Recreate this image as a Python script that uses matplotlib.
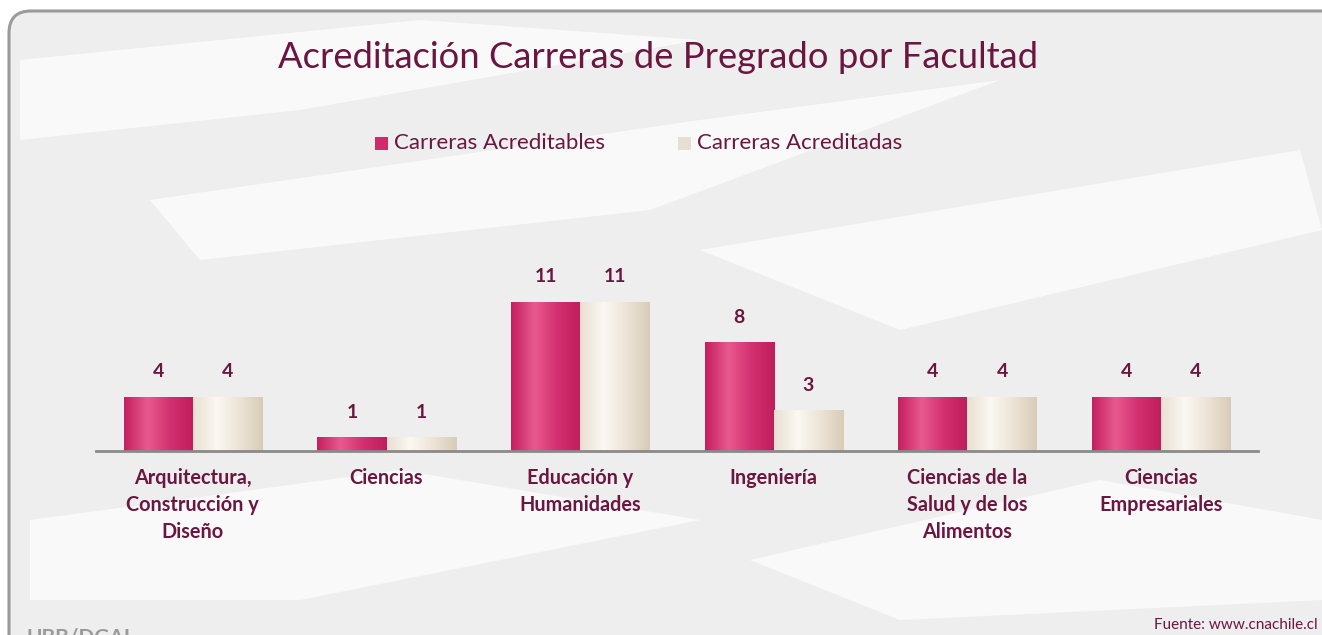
import numpy as np
import matplotlib
matplotlib.use("Agg")
import matplotlib.pyplot as plt
from matplotlib.patches import FancyBboxPatch, Polygon

# data
categories = ["Arquitectura,\nConstrucción y\nDiseño", "Ciencias", "Educación y\nHumanidades",
              "Ingeniería", "Ciencias de la\nSalud y de los\nAlimentos", "Ciencias\nEmpresariales"]
acreditables = [4, 1, 11, 8, 4, 4]
acreditadas = [4, 1, 11, 3, 4, 4]
series_names = ["Carreras Acreditables", "Carreras Acreditadas"]

text_col = "#6b1640"
plt.rcParams["font.family"] = ["Lato", "DejaVu Sans"]

fig = plt.figure(figsize=(13.22, 6.35), dpi=100)
fig.patch.set_facecolor("white")

# background: light grey panel with a few white swooshes (watermark feel)
bg = fig.add_axes([0, 0, 1, 1])
bg.set_xlim(0, 1322)
bg.set_ylim(635, 0)
bg.axis("off")
panel = FancyBboxPatch((9, 11), 1400, 700, boxstyle="round,pad=0,rounding_size=22",
                       facecolor="#eeeeee", edgecolor="#9a9a9a", linewidth=2.2)
bg.add_patch(panel)
swooshes = [
    [(20, 60), (420, 20), (700, 40), (300, 110), (20, 140)],
    [(150, 200), (700, 120), (1000, 80), (650, 210), (200, 260)],
    [(700, 250), (1300, 150), (1322, 230), (900, 330)],
    [(30, 520), (400, 470), (700, 520), (300, 600), (30, 600)],
    [(750, 560), (1100, 480), (1322, 520), (1322, 600), (900, 620)],
]
for pts in swooshes:
    bg.add_patch(Polygon(pts, closed=True, facecolor="white", edgecolor="none", alpha=0.7))

ax = fig.add_axes([96 / 1322, (635 - 451) / 635, (1258 - 96) / 1322, 163 / 635])
ax.patch.set_alpha(0)
x = np.arange(len(categories))
w = 0.357

pink_grad = ["#c4205f", "#e85a8f", "#d23070", "#c01d5c"]
cream_grad = ["#e8e0d2", "#fbf8f2", "#ece4d6", "#d8ccb8"]


def grad_bars(xs, vals, cols):
    cmap = matplotlib.colors.LinearSegmentedColormap.from_list("g", cols)
    bars = ax.bar(xs, vals, width=w, color=cols[2], edgecolor="none")
    for b in bars:
        gx = np.linspace(0, 1, 64).reshape(1, -1)
        im = ax.imshow(gx, cmap=cmap, aspect="auto", extent=(b.get_x(), b.get_x() + b.get_width(), 0, b.get_height()),
                       zorder=2)
        im.set_clip_path(b)
    return bars


b1 = grad_bars(x - w / 2, acreditables, pink_grad)
b2 = grad_bars(x + w / 2, acreditadas, cream_grad)
ax.set_xlim(-0.5, len(categories) - 0.5)
ax.set_ylim(0, 12)

for bars, vals in ((b1, acreditables), (b2, acreditadas)):
    for b, v in zip(bars, vals):
        ax.annotate(str(v), (b.get_x() + b.get_width() / 2, v), xytext=(0, 18), textcoords="offset points",
                    ha="center", va="center", fontsize=14, fontweight="bold", color=text_col)

for s in ["top", "right", "left"]:
    ax.spines[s].set_visible(False)
ax.spines["bottom"].set_color("#8a8a8a")
ax.spines["bottom"].set_linewidth(2)
ax.set_yticks([])
ax.set_xticks(x)
ax.set_xticklabels(categories, fontsize=14.3, fontweight="bold", color=text_col, linespacing=1.45, va="top")
ax.tick_params(axis="x", length=0, pad=12)

# title and legend
fig.text(658 / 1322, 1 - 58 / 635, "Acreditación Carreras de Pregrado por Facultad", ha="center", va="center",
         fontsize=26.2, color=text_col)
leg_items = [(375, series_names[0], "#cf2a6c"), (678, series_names[1], "#e6dfd2")]
for lx, name, c in leg_items:
    bg.add_patch(matplotlib.patches.Rectangle((lx, 137), 13, 13, facecolor=c, edgecolor="none"))
    bg.text(lx + 19, 143, name, ha="left", va="center", fontsize=16, color=text_col)

bg.text(1318, 625, "Fuente: www.cnachile.cl", ha="right", va="center", fontsize=11, color=text_col)
bg.text(26, 638, "UBB/DGAI", ha="left", va="center", fontsize=15, color="#9a9a9a", fontweight="bold")

fig.savefig("out.png", dpi=100)
